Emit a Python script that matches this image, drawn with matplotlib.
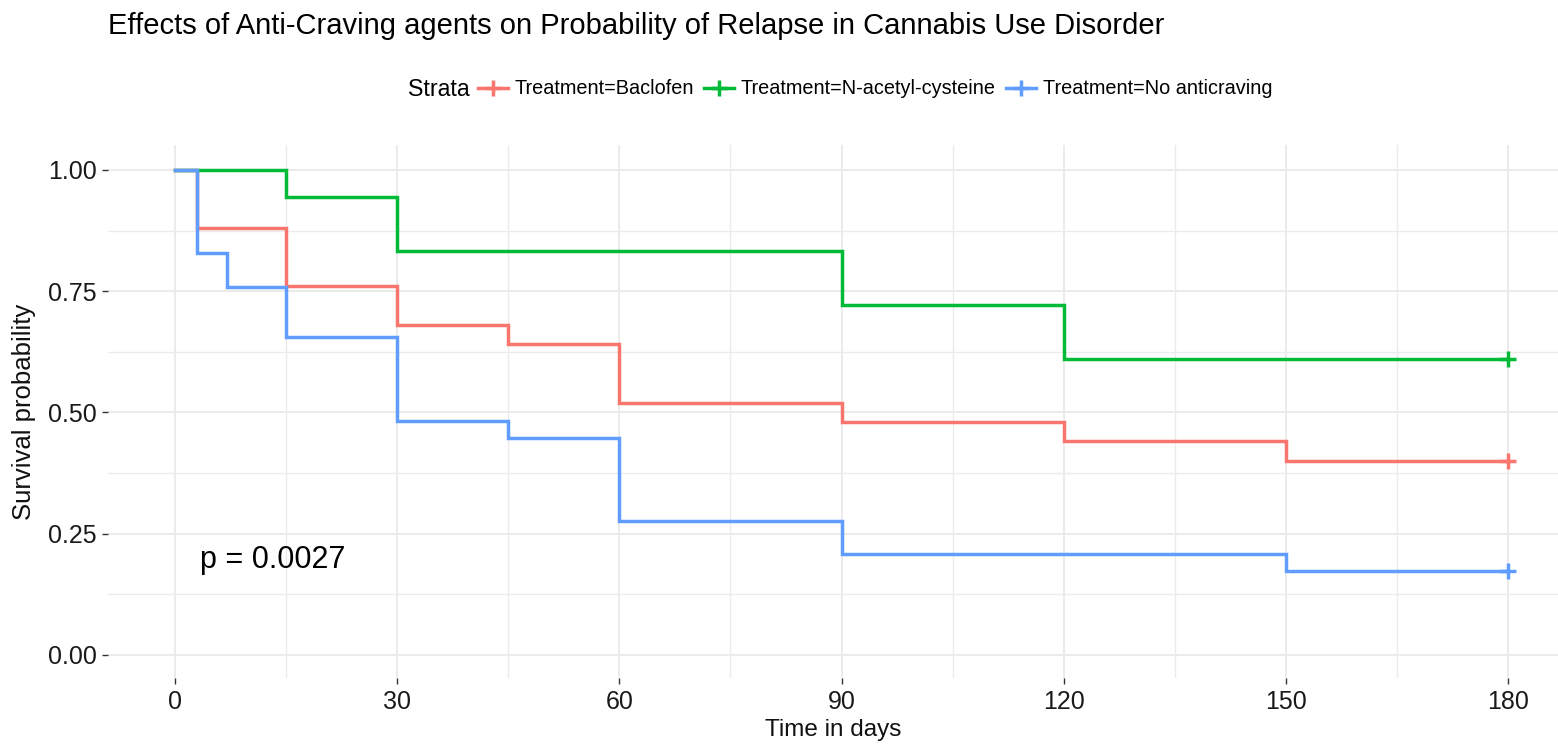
import matplotlib
matplotlib.use("Agg")
import matplotlib.pyplot as plt
from matplotlib.lines import Line2D
from matplotlib.ticker import MultipleLocator

plt.rcParams['font.family'] = ['Liberation Sans', 'DejaVu Sans']

# ---- data ----
strata = ["Treatment=Baclofen", "Treatment=N-acetyl-cysteine", "Treatment=No anticraving"]
colors = ["#F8766D", "#00BA38", "#619CFF"]

baclofen_t = [0, 3, 15, 30, 45, 60, 90, 120, 150, 180]
baclofen_s = [1.0, 0.88, 0.76, 0.68, 0.64, 0.52, 0.48, 0.44, 0.40, 0.40]

nac_t = [0, 15, 30, 90, 120, 180]
nac_s = [1.0, 0.944, 0.833, 0.722, 0.611, 0.611]

none_t = [0, 3, 7, 15, 30, 45, 60, 90, 150, 180]
none_s = [1.0, 0.828, 0.759, 0.655, 0.483, 0.448, 0.276, 0.207, 0.172, 0.172]

censor_t = [180, 180, 180]
censor_s = [0.40, 0.611, 0.172]

x_ticks = [0, 30, 60, 90, 120, 150, 180]
y_ticks = [0.00, 0.25, 0.50, 0.75, 1.00]
y_ticklabels = ["0.00", "0.25", "0.50", "0.75", "1.00"]
p_text = "p = 0.0027"

W, H = 1558, 751
fig = plt.figure(figsize=(W / 100, H / 100), dpi=100)
ax = fig.add_axes([108 / W, 1 - 678 / H, (W - 108) / W, (678 - 145) / H])

series = [(baclofen_t, baclofen_s), (nac_t, nac_s), (none_t, none_s)]
for (t, s), c in zip(series, colors):
    ax.step(t, s, where='post', color=c, lw=2.5, zorder=3, solid_joinstyle='miter')
for ct, cs, c in zip(censor_t, censor_s, colors):
    ax.plot([ct], [cs], marker='+', color=c, markersize=11, mew=2.5, zorder=4, ls='none')

ax.set_xlim(-9.05, 186.75)
ax.set_ylim(-0.048, 1.0515)
ax.set_xticks(x_ticks)
ax.set_yticks(y_ticks)
ax.set_yticklabels(y_ticklabels)
ax.xaxis.set_minor_locator(MultipleLocator(15))
ax.yaxis.set_minor_locator(MultipleLocator(0.125))

for sp in ax.spines.values():
    sp.set_visible(False)
ax.grid(which='major', color='#EBEBEB', lw=1.4, zorder=0)
ax.grid(which='minor', color='#EBEBEB', lw=1.0, zorder=0)
ax.set_axisbelow(True)
ax.tick_params(which='major', length=4.3, width=1.0, color='#333333', labelsize=18, labelcolor='#1a1a1a', pad=4)
ax.tick_params(which='minor', length=0)

ax.set_xlabel("Time in days", fontsize=17.5, color='#111111', labelpad=4)
ax.set_ylabel("Survival probability", fontsize=18.5, color='#111111', labelpad=8)

ax.text(3.4, 0.196, p_text, fontsize=22, ha='left', va='center', color='black')

fig.text(108 / W, 1 - 26 / H, "Effects of Anti-Craving agents on Probability of Relapse in Cannabis Use Disorder",
         fontsize=21, ha='left', va='center', color='black')

fig.text(408 / W, 1 - 89 / H, "Strata", fontsize=16.7, ha='left', va='center', color='black')
handles = [Line2D([], [], color=c, lw=2.5, marker='+', markersize=11, mew=2.5) for c in colors]
leg = fig.legend(handles, strata, loc='center left', bbox_to_anchor=(478 / W, 1 - 89 / H),
                 ncol=3, frameon=False, fontsize=14.3, handlelength=1.5, handletextpad=0.35,
                 columnspacing=0.5, borderpad=0, borderaxespad=0)

fig.savefig("out.png", dpi=100)
